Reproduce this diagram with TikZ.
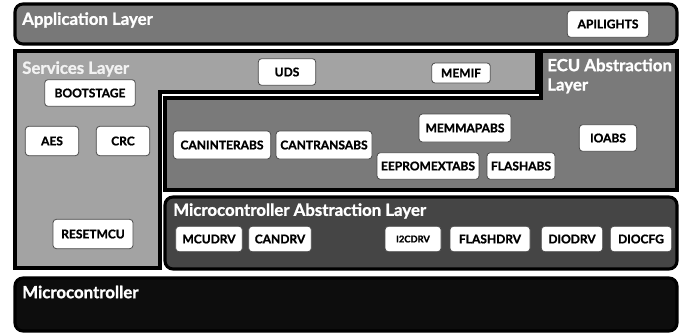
\documentclass[tikz,border=0pt]{standalone}
\usepackage{fontspec}
\setmainfont{Lato}[BoldFeatures={FakeBold=1.2}]

\begin{document}
\begin{tikzpicture}[
  x=0.75pt, y=-0.75pt,
  layer/.style={draw=black, line width=2.3pt, rounded corners=6pt},
  flatlayer/.style={draw=black, line width=2.3pt},
  title/.style={anchor=west, text=white, inner sep=0pt, align=left,
    font=\fontsize{12.6}{14.5}\selectfont\bfseries},
  module/.style={draw=black!70, fill=white, rounded corners=2.5pt,
    line width=0.6pt, minimum height=20pt, inner xsep=3pt, inner ysep=2pt,
    font=\fontsize{9}{10}\selectfont\bfseries}
]
\useasboundingbox (0,0) rectangle (688,333);

\draw[layer, fill=black!53] (15,4) rectangle (677,44);
\node[title] (applabel) at (22,20) {Application Layer};
\node[module, minimum width=61pt] (apilights) at (608,24) {APILIGHTS};

\draw[flatlayer, fill=black!36] (15,51) -- (537,51) -- (537,92) -- (160,92)
  -- (160,268) -- (15,268) -- cycle;
\node[title, text=black!5] (svclabel) at (22,69) {Services Layer};
\node[module, minimum width=43pt] (uds) at (287,72) {UDS};
\node[module, minimum width=44pt, minimum height=15pt] (memif) at (461,73) {MEMIF};
\node[module, minimum width=68pt] (bootstage) at (90,93) {BOOTSTAGE};
\node[module, minimum width=40pt, minimum height=22pt] (aes) at (52,141) {AES};
\node[module, minimum width=40pt, minimum height=22pt] (crc) at (123,141) {CRC};
\node[module, minimum width=60pt, minimum height=22pt] (resetmcu) at (93,234) {RESETMCU};

\draw[flatlayer, fill=black!52] (165,98) -- (541,98) -- (541,51) -- (677,51)
  -- (677,190) -- (165,190) -- cycle;
\node[title] (eculabel) at (547,76) {ECU Abstraction\\Layer};
\node[module, minimum width=73pt, minimum height=21pt] (caninterabs) at (222,145) {CANINTERABS};
\node[module, minimum width=72pt, minimum height=21pt] (cantransabs) at (324,145) {CANTRANSABS};
\node[module, minimum width=69pt, minimum height=21pt] (memmapabs) at (465,128) {MEMMAPABS};
\node[module, minimum width=43pt] (ioabs) at (608,138) {IOABS};
\node[module, minimum width=76pt] (eepromextabs) at (428,166) {EEPROMEXTABS};
\node[module, minimum width=51pt] (flashabs) at (521,166) {FLASHABS};

\draw[layer, fill=black!73] (165,197) rectangle (677,269);
\node[title] (mcallabel) at (173,211) {Microcontroller Abstraction Layer};
\node[module, minimum width=50pt, minimum height=19pt] (mcudrv) at (209,239) {MCUDRV};
\node[module, minimum width=47pt, minimum height=19pt] (candrv) at (280,239) {CANDRV};
\node[module, minimum width=42pt, minimum height=19pt,
  font=\fontsize{7}{8}\selectfont\bfseries] (i2cdrv) at (413,239) {I2CDRV};
\node[module, minimum width=60pt, minimum height=19pt] (flashdrv) at (490,239) {FLASHDRV};
\node[module, minimum width=46pt, minimum height=19pt] (diodrv) at (572,239) {DIODRV};
\node[module, minimum width=46pt, minimum height=19pt] (diocfg) at (641,239) {DIOCFG};

\draw[layer, fill=black!95] (15,278) rectangle (677,331);
\node[title] (mculabel) at (22,292) {Microcontroller};
\end{tikzpicture}
\end{document}
